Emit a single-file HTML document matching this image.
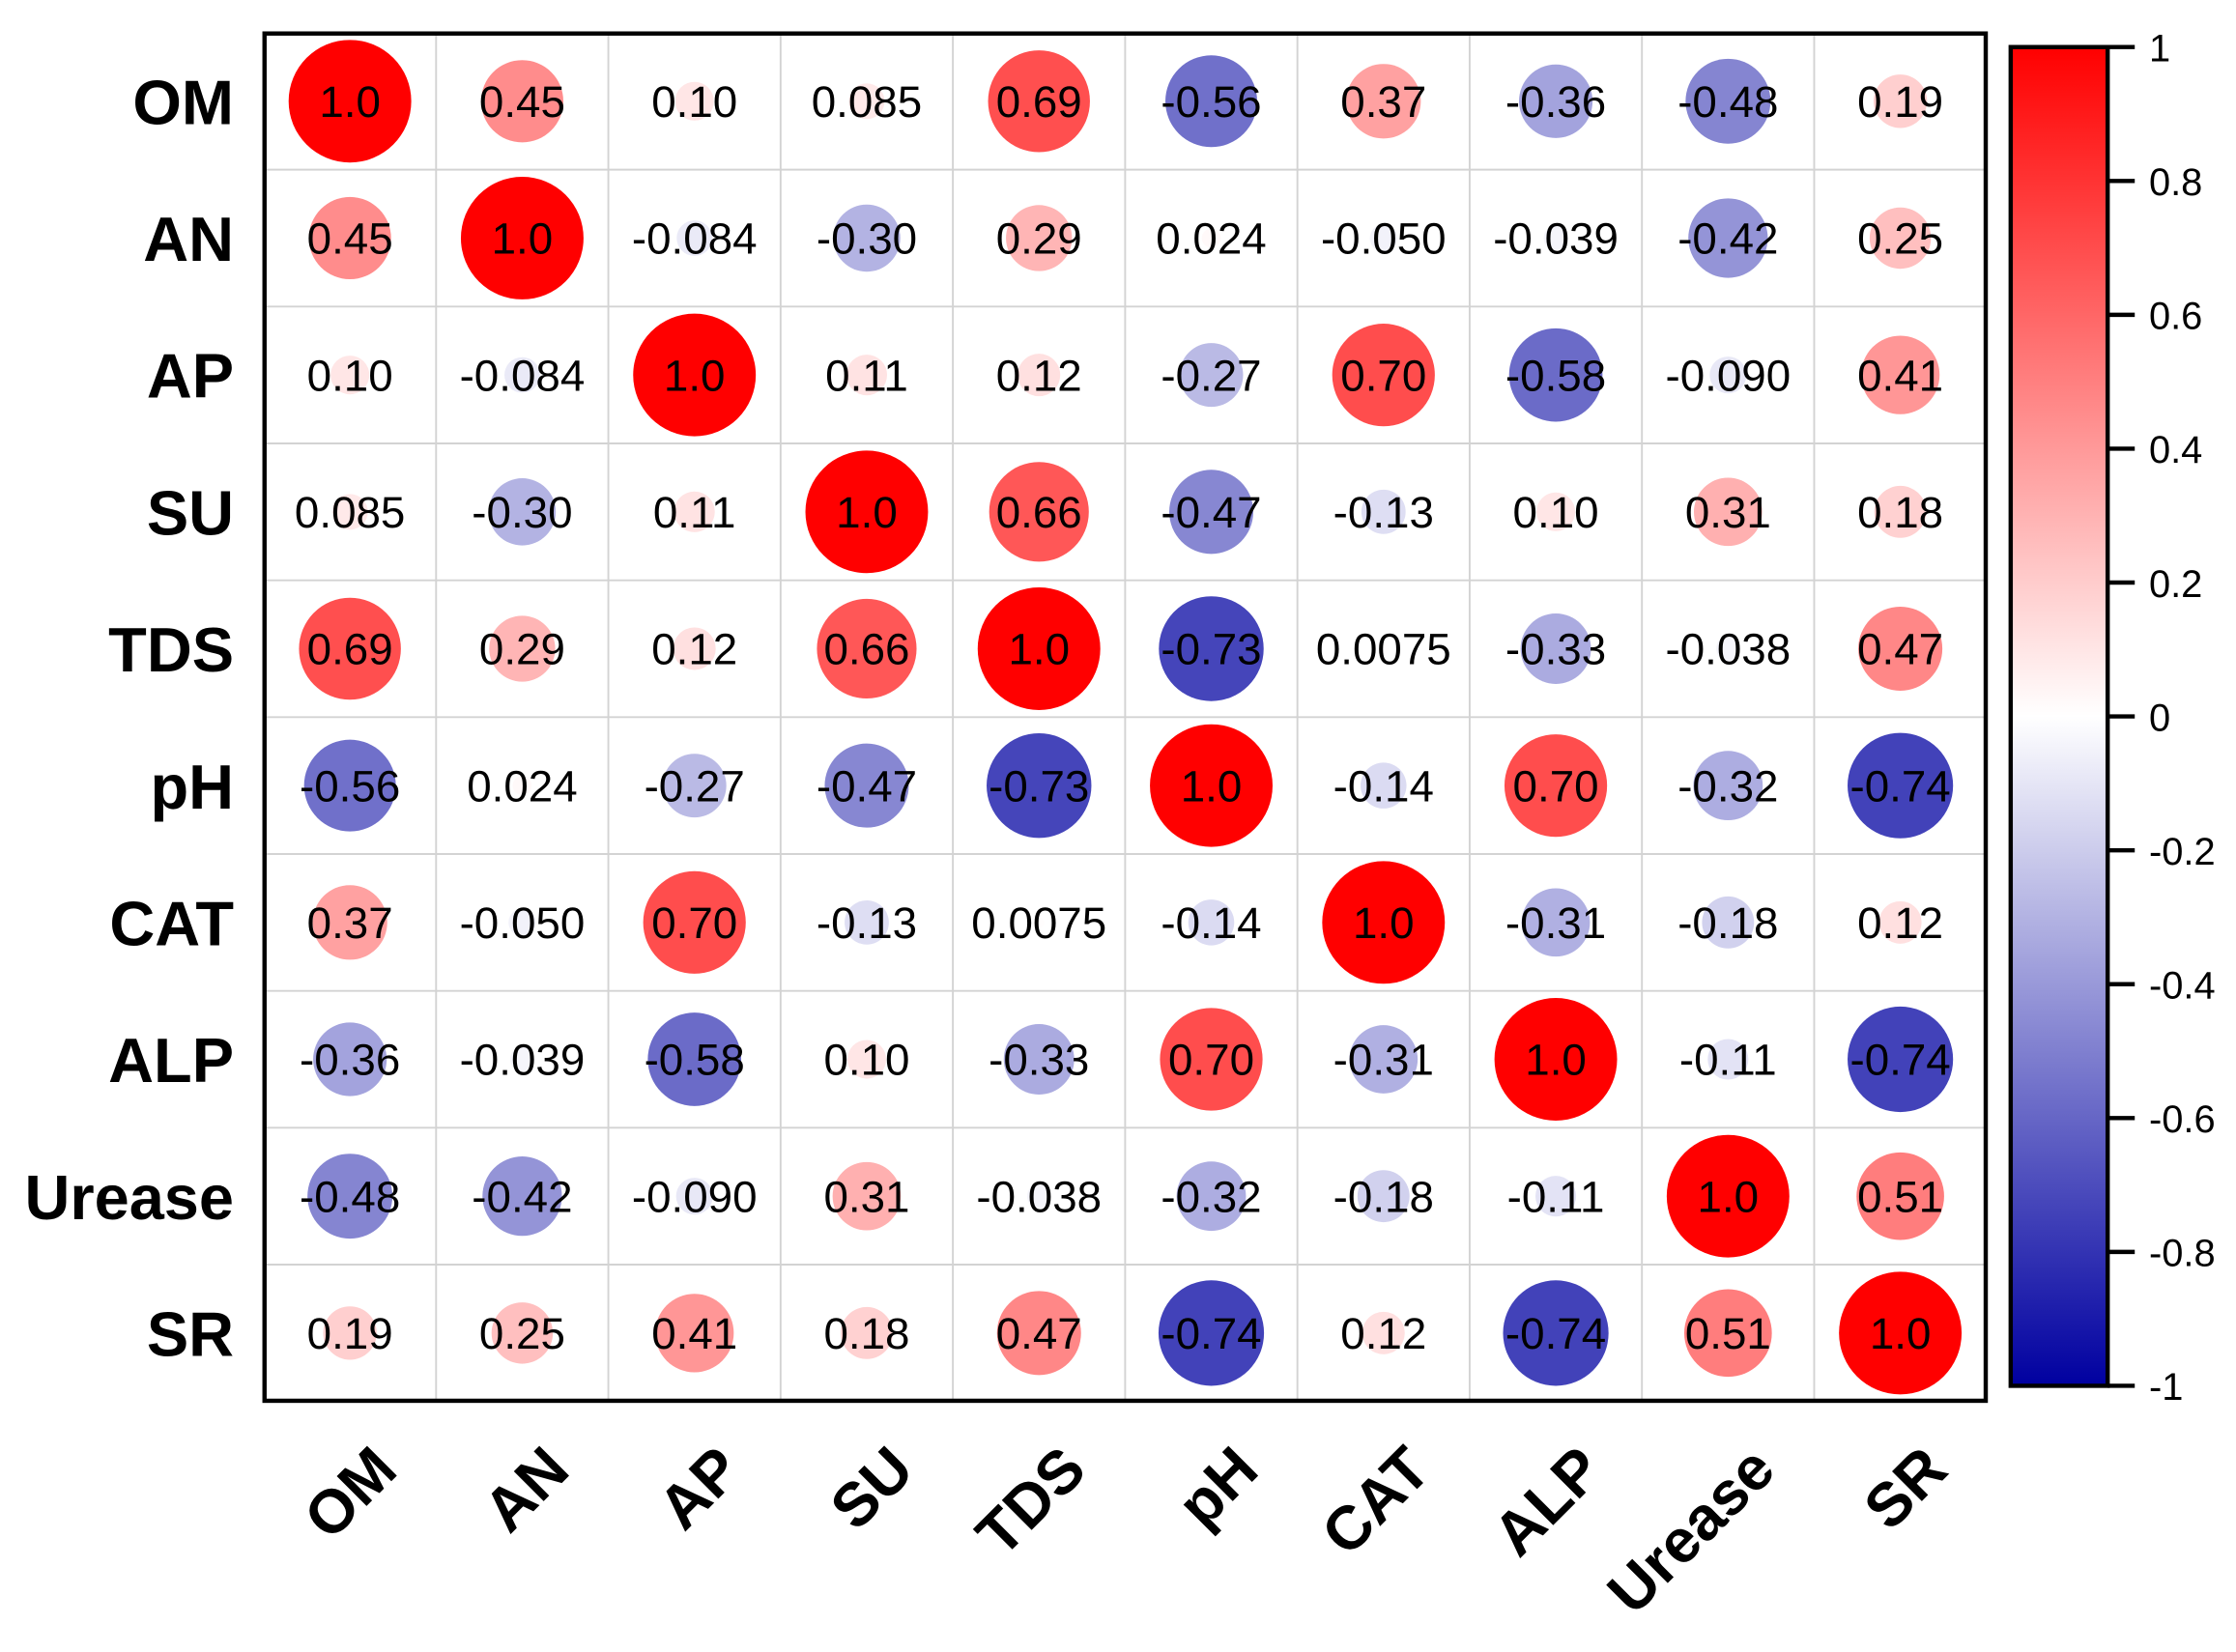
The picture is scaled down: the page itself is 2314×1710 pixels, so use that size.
<!DOCTYPE html>
<html><head><meta charset="utf-8"><style>
html,body{margin:0;padding:0;background:#fff;}
svg{display:block;}
text{font-family:"Liberation Sans",Arial,sans-serif;}
</style></head>
<body>
<svg id="chart" width="2314" height="1710" viewBox="0 0 1568 1158.7" xmlns="http://www.w3.org/2000/svg">
<rect x="0" y="0" width="1568" height="1158.7" fill="#fff"/>
<g id="grid"></g>
<g id="cells"></g>
<rect x="185.5" y="23.5" width="1207" height="959" fill="none" stroke="#000" stroke-width="3"/>
<g id="rowlabels"></g>
<g id="collabels"></g>
<defs>
<linearGradient id="cbgrad" x1="0" y1="0" x2="0" y2="1">
<stop offset="0" stop-color="#ff0000"/>
<stop offset="0.5" stop-color="#ffffff"/>
<stop offset="1" stop-color="#0000a0"/>
</linearGradient>
</defs>
<g id="colorbar">
<rect x="1410" y="33" width="68" height="939" fill="url(#cbgrad)" stroke="#000" stroke-width="3"/>
</g>
<g id="cbticks"></g>
</svg>
<script>
const labels = ["OM","AN","AP","SU","TDS","pH","CAT","ALP","Urease","SR"];
const rowOM     = [1.0,0.45,0.10,0.085,0.69,-0.56,0.37,-0.36,-0.48,0.19];
const rowAN     = [0.45,1.0,-0.084,-0.30,0.29,0.024,-0.050,-0.039,-0.42,0.25];
const rowAP     = [0.10,-0.084,1.0,0.11,0.12,-0.27,0.70,-0.58,-0.090,0.41];
const rowSU     = [0.085,-0.30,0.11,1.0,0.66,-0.47,-0.13,0.10,0.31,0.18];
const rowTDS    = [0.69,0.29,0.12,0.66,1.0,-0.73,0.0075,-0.33,-0.038,0.47];
const rowPH     = [-0.56,0.024,-0.27,-0.47,-0.73,1.0,-0.14,0.70,-0.32,-0.74];
const rowCAT    = [0.37,-0.050,0.70,-0.13,0.0075,-0.14,1.0,-0.31,-0.18,0.12];
const rowALP    = [-0.36,-0.039,-0.58,0.10,-0.33,0.70,-0.31,1.0,-0.11,-0.74];
const rowUrease = [-0.48,-0.42,-0.090,0.31,-0.038,-0.32,-0.18,-0.11,1.0,0.51];
const rowSR     = [0.19,0.25,0.41,0.18,0.47,-0.74,0.12,-0.74,0.51,1.0];
const printedOM     = ["1.0","0.45","0.10","0.085","0.69","-0.56","0.37","-0.36","-0.48","0.19"];
const printedAN     = ["0.45","1.0","-0.084","-0.30","0.29","0.024","-0.050","-0.039","-0.42","0.25"];
const printedAP     = ["0.10","-0.084","1.0","0.11","0.12","-0.27","0.70","-0.58","-0.090","0.41"];
const printedSU     = ["0.085","-0.30","0.11","1.0","0.66","-0.47","-0.13","0.10","0.31","0.18"];
const printedTDS    = ["0.69","0.29","0.12","0.66","1.0","-0.73","0.0075","-0.33","-0.038","0.47"];
const printedPH     = ["-0.56","0.024","-0.27","-0.47","-0.73","1.0","-0.14","0.70","-0.32","-0.74"];
const printedCAT    = ["0.37","-0.050","0.70","-0.13","0.0075","-0.14","1.0","-0.31","-0.18","0.12"];
const printedALP    = ["-0.36","-0.039","-0.58","0.10","-0.33","0.70","-0.31","1.0","-0.11","-0.74"];
const printedUrease = ["-0.48","-0.42","-0.090","0.31","-0.038","-0.32","-0.18","-0.11","1.0","0.51"];
const printedSR     = ["0.19","0.25","0.41","0.18","0.47","-0.74","0.12","-0.74","0.51","1.0"];
const cbTicks = [1,0.8,0.6,0.4,0.2,0,-0.2,-0.4,-0.6,-0.8,-1];
const cbTickLabels = ["1","0.8","0.6","0.4","0.2","0","-0.2","-0.4","-0.6","-0.8","-1"];

const matrix = [rowOM,rowAN,rowAP,rowSU,rowTDS,rowPH,rowCAT,rowALP,rowUrease,rowSR];
const printed = [printedOM,printedAN,printedAP,printedSU,printedTDS,printedPH,printedCAT,printedALP,printedUrease,printedSR];

const NS = "http://www.w3.org/2000/svg";
const X0=185, X1=1393, Y0=23, Y1=983;
const n = labels.length;
const cw = (X1-X0)/n, ch = (Y1-Y0)/n;
const xCenter = i => X0 + cw*(i+0.5);
const yCenter = j => Y0 + ch*(j+0.5);
const rScale = v => 43*Math.sqrt(Math.abs(v));
const CB0=33, CB1=972;
const cbY = v => CB0 + (1 - v)/2*(CB1-CB0);
function color(v){
  v=Math.max(-1,Math.min(1,v));
  if(v>=0){const g=Math.round(255*(1-v));return `rgb(255,${g},${g})`;}
  const a=-v; const c=Math.round(255*(1-a)); const b=Math.round(255-95*a);
  return `rgb(${c},${c},${b})`;
}
function mk(tag, attrs, parent){
  const e=document.createElementNS(NS,tag);
  for(const k in attrs) e.setAttribute(k, attrs[k]);
  parent.appendChild(e); return e;
}
const grid=document.getElementById('grid');
for(let i=1;i<n;i++){
  const gx=X0+cw*i, gy=Y0+ch*i;
  const l1=mk('line',{x1:gx,y1:Y0,x2:gx,y2:Y1,stroke:'#d3d3d3','stroke-width':1.3},grid);
  
  
  const l2=mk('line',{x1:X0,y1:gy,x2:X1,y2:gy,stroke:'#d3d3d3','stroke-width':1.3},grid);
  
  
}
const cells=document.getElementById('cells');
for(let j=0;j<n;j++){
  for(let i=0;i<n;i++){
    const v=matrix[j][i];
    const c=mk('circle',{cx:xCenter(i),cy:yCenter(j),r:rScale(v),fill:color(v)},cells);
    
    
    const t=mk('text',{x:xCenter(i),y:yCenter(j)+11,'text-anchor':'middle','font-size':31,fill:'#000'},cells);
    t.textContent=printed[j][i];
    
    
  }
}
const rl=document.getElementById('rowlabels');
for(let j=0;j<n;j++){
  const t=mk('text',{x:164,y:yCenter(j)+16,'text-anchor':'end','font-size':44,'font-weight':'bold'},rl);
  t.textContent=labels[j];
  
  
}
const cl=document.getElementById('collabels');
for(let i=0;i<n;i++){
  const ax=xCenter(i)+35, ay=1033;
  const t=mk('text',{x:ax,y:ay,'text-anchor':'end','font-size':43,'font-weight':'bold',transform:`rotate(-45 ${ax} ${ay})`},cl);
  t.textContent=labels[i];
  
  
}
const cbt=document.getElementById('cbticks');
for(let k=0;k<cbTicks.length;k++){
  const y=cbY(cbTicks[k]);
  const l=mk('line',{x1:1478,y1:y,x2:1497,y2:y,stroke:'#000','stroke-width':3},cbt);
  
  
  const t=mk('text',{x:1507,y:y+10,'font-size':27},cbt);
  t.textContent=cbTickLabels[k];
  
  
}
</script>
</body></html>
